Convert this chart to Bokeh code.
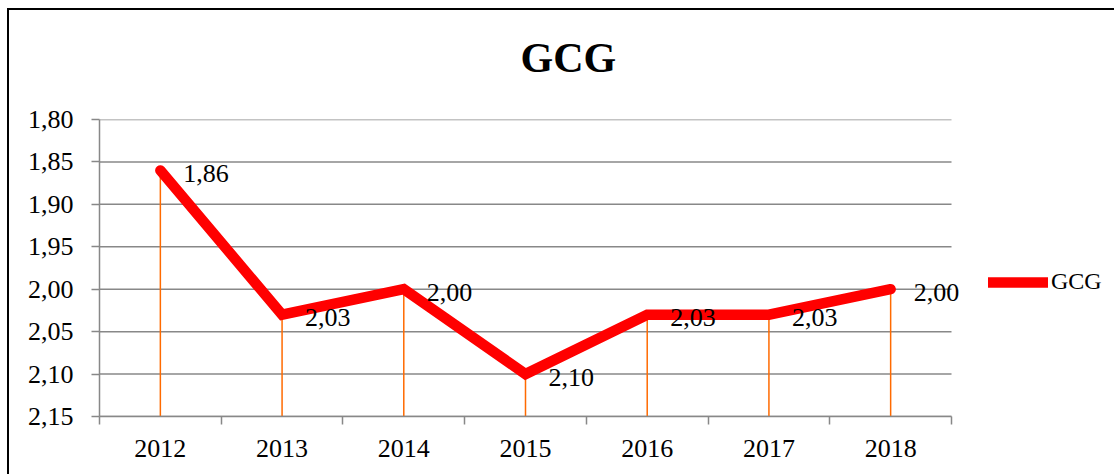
from bokeh.plotting import figure
from bokeh.models import (Range1d, FixedTicker, Legend, LegendItem, Title, ColumnDataSource, LabelSet)
from bokeh.embed import file_html
from bokeh.resources import INLINE

years = ["2012", "2013", "2014", "2015", "2016", "2017", "2018"]
gcg = [1.86, 2.03, 2.00, 2.10, 2.03, 2.03, 2.00]
y_ticks = [1.80, 1.85, 1.90, 1.95, 2.00, 2.05, 2.10, 2.15]

def fmt(v):
    return f"{v:.2f}".replace(".", ",")

n = len(years)
xs = list(range(n))
src = ColumnDataSource(dict(x=xs, y=gcg, lab=[fmt(v) for v in gcg],
                            base=[y_ticks[-1]] * n))
grid_src = ColumnDataSource(dict(y=y_ticks, x0=[-0.5] * len(y_ticks),
                                 x1=[n - 0.5] * len(y_ticks)))

FONT = "Liberation Serif"
GRID = "#888888"

W, H = 1107, 466
LEFT, TOP, BOTTOM = 90, 109, 60
CAT_PX = 852 / n                      # pixel width of one category slot
x_end = -0.5 + (W - LEFT) / CAT_PX    # frame runs to the right edge (legend area)

p = figure(width=W, height=H, output_backend="svg", toolbar_location=None,
           x_range=Range1d(-0.5, x_end),
           y_range=Range1d(y_ticks[-1], y_ticks[0]),
           min_border_left=LEFT, min_border_right=0, min_border_top=TOP,
           min_border_bottom=BOTTOM, title=None)
p.outline_line_color = None
p.background_fill_color = "white"
p.border_fill_color = "white"
p.styles = {"border-left": "2px solid black", "border-top": "2px solid black",
            "margin-left": "7px", "margin-top": "8px"}

# Title (with an empty spacer title between it and the plot area)
spacer = Title(text=" ", text_font_size="1px", standoff=36)
t = Title(text="GCG", align="left", offset=421, text_font=FONT,
          text_font_size="42px", text_font_style="bold", text_color="black",
          standoff=0)
p.add_layout(spacer, "above")
p.add_layout(t, "above")

# Axes
p.xaxis.ticker = FixedTicker(ticks=xs, minor_ticks=[i - 0.5 for i in range(n + 1)])
p.xaxis.bounds = (-0.5, n - 0.5)
p.xaxis.major_label_overrides = {i: y for i, y in enumerate(years)}
p.xaxis.major_tick_out = 0
p.xaxis.major_tick_in = 0
p.xaxis.minor_tick_out = 8
p.xaxis.minor_tick_in = 0
p.xaxis.minor_tick_line_color = GRID
p.xaxis.minor_tick_line_width = 1.5
p.xaxis.axis_line_color = GRID
p.xaxis.axis_line_width = 1.5
p.xaxis.major_label_standoff = 15
p.xaxis.major_label_text_font = FONT
p.xaxis.major_label_text_font_size = "26px"
p.xaxis.major_label_text_color = "black"

p.yaxis.ticker = FixedTicker(ticks=y_ticks, minor_ticks=[])
p.yaxis.major_label_overrides = {v: fmt(v) for v in y_ticks}
p.yaxis.major_tick_out = 8
p.yaxis.major_tick_in = 0
p.yaxis.major_tick_line_color = GRID
p.yaxis.major_tick_line_width = 1.5
p.yaxis.axis_line_color = GRID
p.yaxis.axis_line_width = 1.5
p.yaxis.major_label_standoff = 18
p.yaxis.major_label_text_font = FONT
p.yaxis.major_label_text_font_size = "26px"
p.yaxis.major_label_text_color = "black"

p.xgrid.visible = False
p.ygrid.visible = False

# Horizontal gridlines limited to the category area
p.segment(x0="x0", y0="y", x1="x1", y1="y", source=grid_src,
          line_color=GRID, line_width=1.5, level="underlay")

# Drop lines
p.segment(x0="x", y0="y", x1="x", y1="base", source=src,
          line_color="#FF6A00", line_width=1.5)

# Main line
r = p.line("x", "y", source=src, line_color="#FF0000", line_width=10.5,
           line_cap="round", line_join="miter")

# Data labels
labels = LabelSet(x="x", y="y", text="lab", source=src, x_offset=23, y_offset=-3,
                  text_font=FONT, text_font_size="26px", text_color="black",
                  text_baseline="middle", text_align="left")
p.add_layout(labels)

legend = Legend(items=[LegendItem(label="GCG", renderers=[r])],
                location=(889, 121), orientation="vertical",
                glyph_width=60, glyph_height=20, label_standoff=3,
                padding=0, margin=0, border_line_color=None,
                background_fill_alpha=0)
legend.label_text_font = FONT
legend.label_text_font_size = "24px"
legend.label_text_color = "black"
legend.label_height = 24
p.add_layout(legend, "center")

open("out.html", "w").write(file_html(p, INLINE))
